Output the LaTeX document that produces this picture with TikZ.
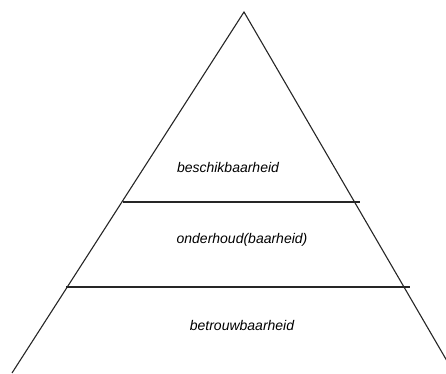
\documentclass[tikz,border=0pt]{standalone}
\usepackage{fontspec}
\setmainfont{Liberation Sans}
\begin{document}
\begin{tikzpicture}[x=1pt,y=1pt,
  edge/.style={line width=1.1pt,draw=black!85},
  level/.style={font=\itshape\fontsize{14}{16}\selectfont,inner sep=0pt,anchor=center}]
\useasboundingbox (0,0) rectangle (446,373);
\clip (0,0) rectangle (446,373);
% triangle corners
\coordinate (apex) at (244,361);
\coordinate (bl) at (12,0);
\coordinate (br) at (454,0);
% dividing lines
\coordinate (l1a) at (123,171);
\coordinate (l1b) at (360,171);
\coordinate (l2a) at (66,86);
\coordinate (l2b) at (410,86);
\draw[edge] (bl) -- (apex) -- (br);
\draw[edge] (l1a) -- (l1b);
\draw[edge] (l2a) -- (l2b);
% labels
\node[level] (top) at (228,206) {beschikbaarheid};
\node[level] (mid) at (242,133) {onderhoud(baarheid)};
\node[level] (bot) at (242,48) {betrouwbaarheid};
\end{tikzpicture}
\end{document}
